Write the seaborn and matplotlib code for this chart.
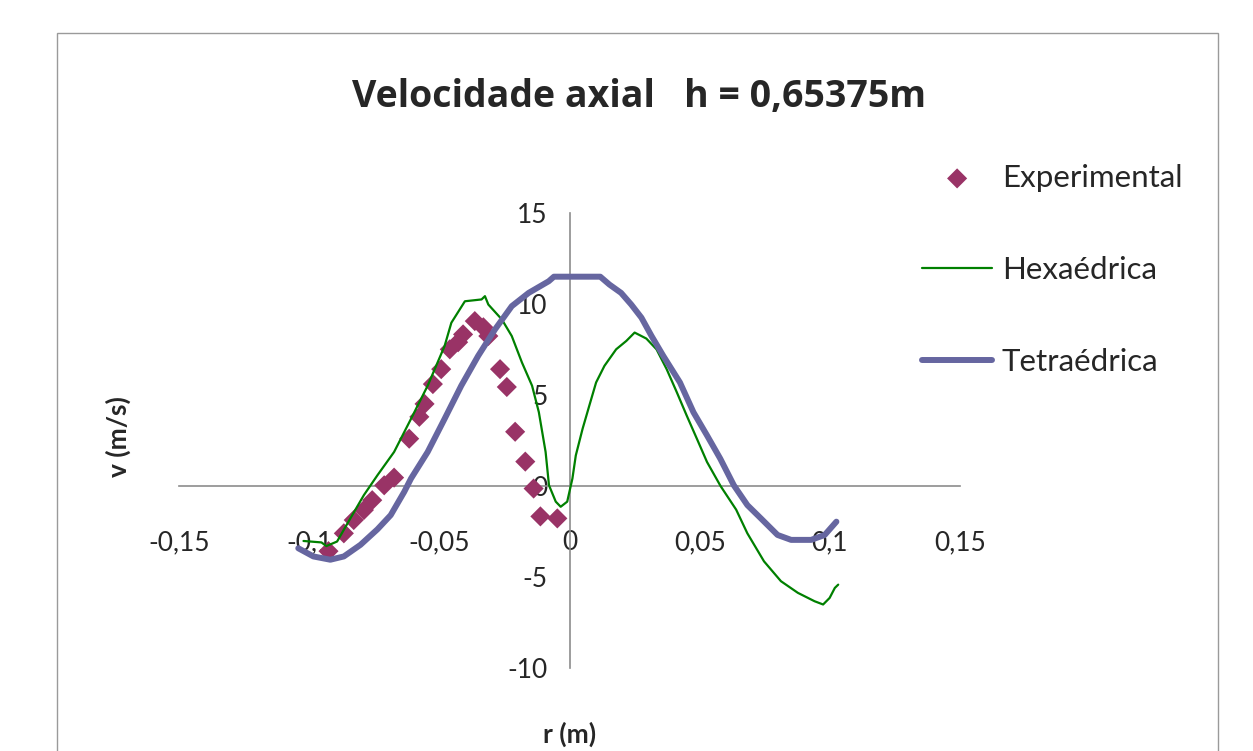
import matplotlib
matplotlib.use("Agg")
import matplotlib.pyplot as plt
from matplotlib.patches import Rectangle
import seaborn as sns
import pandas as pd

# dados
exp_r = [-0.0926, -0.0867, -0.0829, -0.0790, -0.0758, -0.0712, -0.0674, -0.0616, -0.0577,
         -0.0557, -0.0525, -0.0493, -0.0460, -0.0428, -0.0409, -0.0364, -0.0331, -0.0312,
         -0.0267, -0.0241, -0.0209, -0.0170, -0.0138, -0.0112, -0.0047]
exp_v = [-3.58, -2.60, -1.87, -1.32, -0.78, 0.04, 0.46, 2.60, 3.80,
         4.51, 5.60, 6.42, 7.51, 7.90, 8.33, 9.06, 8.72, 8.24,
         6.42, 5.44, 2.98, 1.34, -0.14, -1.67, -1.78]

hex_r = [-0.1022, -0.0953, -0.0934, -0.0893, -0.0842, -0.0790, -0.0738, -0.0674, -0.0609,
         -0.0545, -0.0480, -0.0454, -0.0402, -0.0338, -0.0325, -0.0312, -0.0260, -0.0222,
         -0.0183, -0.0144, -0.0118, -0.0092, -0.0079, -0.0053, -0.0034, -0.0009, 0.0011,
         0.0024, 0.0050, 0.0076, 0.0102, 0.0134, 0.0179, 0.0218, 0.0250, 0.0295, 0.0334,
         0.0373, 0.0412, 0.0450, 0.0489, 0.0528, 0.0580, 0.0640, 0.0683, 0.0747, 0.0812,
         0.0877, 0.0941, 0.0974, 0.0999, 0.1019, 0.1032]
hex_v = [-3.02, -3.10, -3.30, -3.05, -1.78, -0.50, 0.59, 1.87, 3.69,
         5.51, 7.69, 8.97, 10.15, 10.25, 10.43, 9.97, 9.15, 8.24,
         6.79, 5.51, 4.06, 1.87, 0.04, -0.86, -1.14, -0.86, 0.41,
         1.68, 3.14, 4.42, 5.69, 6.60, 7.51, 7.97, 8.43, 8.10, 7.51,
         6.42, 5.15, 3.87, 2.60, 1.32, 0.00, -1.30, -2.60, -4.14, -5.23,
         -5.87, -6.33, -6.51, -6.15, -5.60, -5.42]

tet_r = [-0.1042, -0.0984, -0.0919, -0.0867, -0.0803, -0.0738, -0.0687, -0.0635, -0.0609,
         -0.0545, -0.0480, -0.0416, -0.0351, -0.0286, -0.0222, -0.0157, -0.0080, -0.0060,
         0.0000, 0.0060, 0.0118, 0.0153, 0.0198, 0.0237, 0.0276, 0.0315, 0.0360,
         0.0424, 0.0476, 0.0528, 0.0579, 0.0631, 0.0683, 0.0735, 0.0799, 0.0851,
         0.0928, 0.0980, 0.1025]
tet_v = [-3.42, -3.87, -4.05, -3.87, -3.23, -2.38, -1.60, -0.32, 0.41,
         1.87, 3.69, 5.51, 7.15, 8.61, 9.88, 10.61, 11.25, 11.5,
         11.5, 11.5, 11.5, 11.07, 10.61, 9.97, 9.25, 8.24, 7.15,
         5.69, 4.05, 2.78, 1.50, 0.04, -1.05, -1.78, -2.69, -2.96,
         -2.96, -2.69, -1.96]

x_ticks = [-0.15, -0.1, -0.05, 0, 0.05, 0.1, 0.15]
x_tick_labels = ["-0,15", "-0,1", "-0,05", "0", "0,05", "0,1", "0,15"]
y_ticks = [-10, -5, 0, 5, 10, 15]
y_tick_labels = ["-10", "-5", "0", "5", "10", "15"]

exp_df = pd.DataFrame({"r": exp_r, "v": exp_v})
hex_df = pd.DataFrame({"r": hex_r, "v": hex_v})
tet_df = pd.DataFrame({"r": tet_r, "v": tet_v})

sns.set_style("white")
plt.rcParams["font.family"] = ["Lato", "DejaVu Sans"]

fig = plt.figure(figsize=(12.53, 7.51), dpi=100)
ax = fig.add_axes([0.1429, 0.1105, 0.6233, 0.6059])

sns.scatterplot(data=exp_df, x="r", y="v", marker="D", s=105, color="#993366",
                edgecolor="none", label="Experimental", ax=ax, zorder=3)
sns.lineplot(data=hex_df, x="r", y="v", color="#008000", linewidth=1.6,
             label="Hexaédrica", ax=ax, zorder=4)
sns.lineplot(data=tet_df, x="r", y="v", color="#6666A0", linewidth=4.3,
             label="Tetraédrica", ax=ax, zorder=5)

ax.set_xlim(-0.15, 0.15)
ax.set_ylim(-10, 15)

# eixos cruzando na origem, estilo Excel
gray = "#8c8c8c"
ax.spines["left"].set_position(("data", 0))
ax.spines["bottom"].set_position(("data", 0))
ax.spines["top"].set_visible(False)
ax.spines["right"].set_visible(False)
for s in ["left", "bottom"]:
    ax.spines[s].set_color(gray)
    ax.spines[s].set_linewidth(1.2)

ax.set_xticks(x_ticks)
ax.set_xticklabels(x_tick_labels)
ax.set_yticks(y_ticks)
ax.set_yticklabels(y_tick_labels)
ax.tick_params(axis="x", direction="out", length=7, color=gray, width=1.2, pad=25, labelsize=19)
ax.tick_params(axis="y", direction="out", length=7, color=gray, width=1.2, pad=9, labelsize=19)

ax.set_xlabel("r (m)", fontsize=19, fontweight="bold")
ax.set_ylabel("v (m/s)", fontsize=19, fontweight="bold")
ax.xaxis.set_label_coords(0.5006, -0.118)
ax.yaxis.set_label_coords(-0.061, 0.508)

fig.text(0.51, 0.871, "Velocidade axial   h = 0,65375m", ha="center", va="center",
         fontsize=27, fontweight="bold", family=["Open Sans", "DejaVu Sans"])

ax.legend(loc="center left", bbox_to_anchor=(0.7358, 0.6405), bbox_transform=fig.transFigure,
          frameon=False, fontsize=22.5, handlelength=2.25, labelspacing=2.06,
          handletextpad=0.3, borderpad=0, borderaxespad=0)

# moldura da área do gráfico
fig.patches.append(Rectangle((57 / 1253, -0.1), (1218 - 57) / 1253, 1.056,
                             transform=fig.transFigure, fill=False,
                             edgecolor="#9a9a9a", linewidth=1))

fig.savefig("out.png", dpi=100)
